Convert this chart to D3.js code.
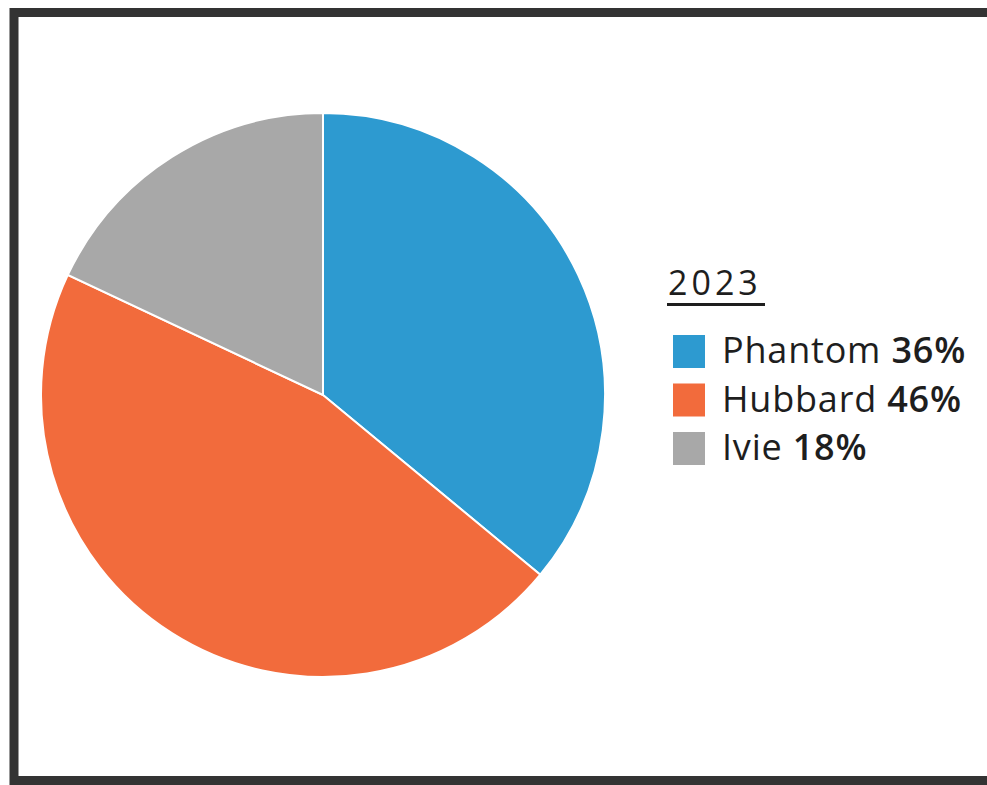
<!DOCTYPE html>
<html>
<head>
<meta charset="utf-8">
<script src="https://cdn.jsdelivr.net/npm/d3@7"></script>
<style>
  body { margin: 0; background: #fff; }
  svg { display: block; }
  .legend-title { font-family: "Open Sans", sans-serif; font-size: 34px; letter-spacing: 4px; fill: #1e1e1e; }
  .legend-label { font-family: "Open Sans", sans-serif; font-size: 36px; letter-spacing: 0.8px; fill: #1e1e1e; }
</style>
</head>
<body>
<div id="chart"></div>
<script>
// chart data
const names = ["Phantom", "Hubbard", "Ivie"];
const shares = [36, 46, 18];
const colors = ["#2d9ad0", "#f26b3c", "#a8a8a8"];
const legendTitle = "2023";

const width = 987, height = 785;

const svg = d3.select("#chart").append("svg")
    .attr("width", width)
    .attr("height", height);

// frame around the chart (right side runs off the picture)
svg.append("rect")
    .attr("x", 14)
    .attr("y", 12.5)
    .attr("width", 1000)
    .attr("height", 768)
    .attr("fill", "none")
    .attr("stroke", "#333")
    .attr("stroke-width", 9);

let pieData = names.map(function (n, i) {
    return {name: n, value: shares[i], color: colors[i]};
});

let pie = d3.pie()
    .sort(null)
    .value(function (d) { return d.value; });

let arc = d3.arc()
    .innerRadius(0)
    .outerRadius(282);

let g = svg.append("g")
    .attr("transform", "translate(323,395)");

g.selectAll("path")
    .data(pie(pieData))
    .enter()
    .append("path")
    .attr("d", arc)
    .attr("fill", function (d) { return d.data.color; })
    .attr("stroke", "#fff")
    .attr("stroke-width", 2);

// legend
let legend = svg.append("g")
    .attr("transform", "translate(667,0)");

legend.append("text")
    .attr("class", "legend-title")
    .attr("x", 1)
    .attr("y", 295)
    .text(legendTitle);

legend.append("rect")
    .attr("x", 0)
    .attr("y", 303)
    .attr("width", 98)
    .attr("height", 3)
    .attr("fill", "#1e1e1e");

let rows = legend.selectAll(".row")
    .data(pieData)
    .enter()
    .append("g")
    .attr("class", "row")
    .attr("transform", function (d, i) { return "translate(6," + (335 + i * 48.5) + ")"; });

rows.append("rect")
    .attr("width", 32)
    .attr("height", 33)
    .attr("fill", function (d) { return d.color; });

let labels = rows.append("text")
    .attr("class", "legend-label")
    .attr("x", 49)
    .attr("y", 28);

labels.append("tspan")
    .text(function (d) { return d.name + " "; });

labels.append("tspan")
    .attr("font-weight", 600)
    .text(function (d) { return d.value + "%"; });
</script>
</body>
</html>
